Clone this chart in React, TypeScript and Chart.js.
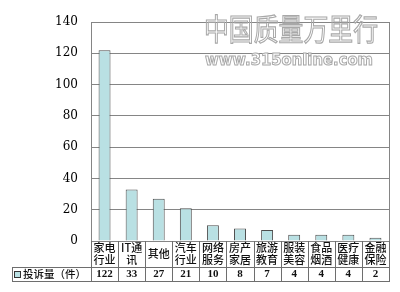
import React, { useEffect, useRef } from "react";
import { Chart, registerables } from "chart.js";

Chart.register(...registerables);

// Complaint counts by industry
const categories: string[][] = [
  ["家电", "行业"],
  ["IT通", "讯"],
  ["其他"],
  ["汽车", "行业"],
  ["网络", "服务"],
  ["房产", "家居"],
  ["旅游", "教育"],
  ["服装", "美容"],
  ["食品", "烟酒"],
  ["医疗", "健康"],
  ["金融", "保险"],
];
const complaints: number[] = [122, 33, 27, 21, 10, 8, 7, 4, 4, 4, 2];
const seriesName = "投诉量（件）";
const yTicks: number[] = [0, 20, 40, 60, 80, 100, 120, 140];
const watermarkTitle = "中国质量万里行";
const watermarkUrl = "www.315online.com";

const BAR_FILL = "#b9e0e3";
const BAR_EDGE = "#4d4d4d";
const GRID = "#858585";
const TABLE_LINE = "#6e6e6e";

const tablePlugin = {
  id: "dataTable",
  afterDraw(chart: any) {
    const ctx: CanvasRenderingContext2D = chart.ctx;
    const { left, right, top, bottom } = chart.chartArea;
    const n = categories.length;
    const w = (right - left) / n;
    const rowSplit = bottom + 26;
    const tableBottom = bottom + 40;
    const tableLeft = 12;

    ctx.save();
    // plot frame right edge
    ctx.strokeStyle = GRID;
    ctx.lineWidth = 1;
    ctx.beginPath();
    ctx.moveTo(Math.round(right) + 0.5, top);
    ctx.lineTo(Math.round(right) + 0.5, bottom);
    ctx.stroke();

    // table grid
    ctx.strokeStyle = TABLE_LINE;
    ctx.beginPath();
    for (let i = 0; i <= n; i++) {
      const x = Math.round(left + i * w) + 0.5;
      ctx.moveTo(x, bottom);
      ctx.lineTo(x, tableBottom);
    }
    ctx.moveTo(tableLeft, rowSplit + 0.5);
    ctx.lineTo(right + 1, rowSplit + 0.5);
    ctx.moveTo(tableLeft, tableBottom + 0.5);
    ctx.lineTo(right + 1, tableBottom + 0.5);
    ctx.moveTo(tableLeft + 0.5, rowSplit);
    ctx.lineTo(tableLeft + 0.5, tableBottom);
    ctx.stroke();

    // category labels
    ctx.fillStyle = "#111";
    ctx.textAlign = "center";
    ctx.textBaseline = "middle";
    ctx.font = '500 11px "Noto Sans CJK SC"';
    const xScale = chart.scales.x;
    categories.forEach((lines, i) => {
      const cx = xScale.getPixelForValue(i);
      const mid = bottom + 13;
      if (lines.length === 1) {
        ctx.fillText(lines[0], cx, mid);
      } else {
        ctx.fillText(lines[0], cx, mid - 6);
        ctx.fillText(lines[1], cx, mid + 6);
      }
    });

    // values row
    ctx.font = 'bold 11px "Liberation Serif"';
    complaints.forEach((v, i) => {
      ctx.fillText(String(v), xScale.getPixelForValue(i), rowSplit + 7.5);
    });

    // legend cell
    ctx.fillStyle = BAR_FILL;
    ctx.fillRect(14.5, rowSplit + 4.5, 6, 6);
    ctx.strokeStyle = "#333";
    ctx.strokeRect(14.5, rowSplit + 4.5, 6, 6);
    ctx.fillStyle = "#111";
    ctx.textAlign = "left";
    ctx.font = '500 10.5px "Noto Sans CJK SC"';
    ctx.fillText(seriesName, 23, rowSplit + 7.5);

    // outlined watermark
    ctx.strokeStyle = "#a8a8a8";
    ctx.lineWidth = 1;
    ctx.save();
    ctx.translate(204, 29);
    ctx.scale(1, 1.2);
    ctx.font = '25px "Noto Sans CJK SC"';
    ctx.textBaseline = "middle";
    ctx.strokeText(watermarkTitle, 0, 0, 174);
    ctx.restore();
    ctx.font = 'bold 15px "DejaVu Sans"';
    ctx.textBaseline = "middle";
    ctx.fillStyle = "#ffffff";
    ctx.fillText(watermarkUrl, 205, 61, 168);
    ctx.strokeText(watermarkUrl, 205, 61, 168);
    ctx.restore();
  },
};

export default function App() {
  const ref = useRef<HTMLCanvasElement | null>(null);

  useEffect(() => {
    if (!ref.current) return;
    const chart = new Chart(ref.current, {
      type: "bar",
      data: {
        labels: categories.map((c) => c.join("")),
        datasets: [
          {
            label: seriesName,
            data: complaints,
            backgroundColor: BAR_FILL,
            borderColor: BAR_EDGE,
            borderWidth: 1,
            barPercentage: 0.9,
            categoryPercentage: 0.49,
          },
        ],
      },
      options: {
        animation: false,
        responsive: false,
        maintainAspectRatio: false,
        layout: { padding: { top: 22, right: 11, bottom: 51, left: 0 } },
        plugins: {
          legend: { display: false },
          tooltip: { enabled: false },
        },
        scales: {
          x: { display: false },
          y: {
            min: 0,
            max: 140,
            afterBuildTicks: (scale: any) => {
              scale.ticks = yTicks.map((v) => ({ value: v }));
            },
            afterFit: (scale: any) => {
              scale.width = 91;
            },
            ticks: {
              color: "#000",
              padding: 13,
              font: { family: '"DejaVu Serif"', size: 12 },
            },
            grid: { color: GRID, lineWidth: 1, drawTicks: false },
            border: { display: true, color: GRID, width: 1 },
          },
        },
      },
      plugins: [tablePlugin],
    });
    return () => chart.destroy();
  }, []);

  return (
    <div style={{ position: "absolute", left: 0, top: 0, width: 400, height: 292, background: "#fff" }}>
      <canvas ref={ref} width={400} height={292} />
    </div>
  );
}
